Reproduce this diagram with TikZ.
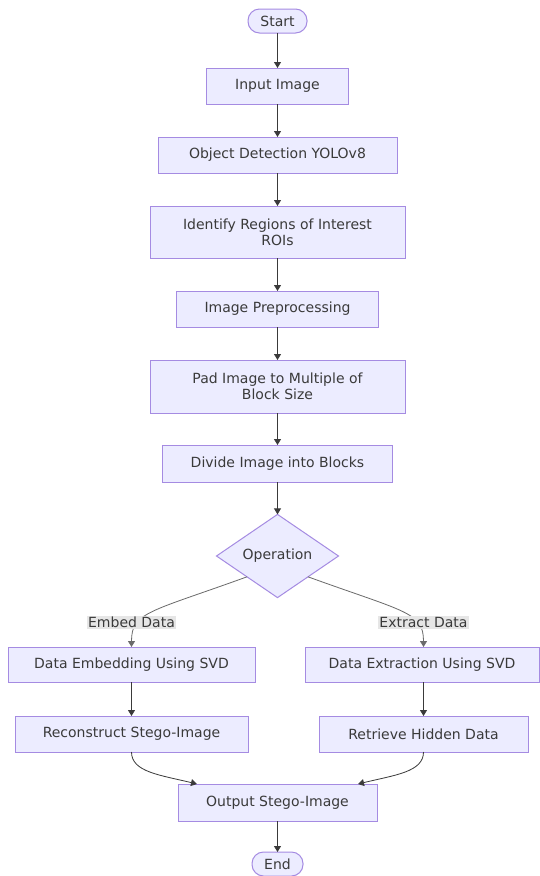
\documentclass[tikz,border=0pt]{standalone}
\usepackage{fontspec}
\setmainfont{DejaVu Sans}
\usetikzlibrary{shapes.geometric,arrows.meta}
\definecolor{nodefill}{HTML}{ECECFF}
\definecolor{nodeline}{HTML}{A58BE2}
\definecolor{edgeline}{HTML}{3A3A3A}
\definecolor{labelfill}{HTML}{E6E6E6}
\definecolor{txt}{HTML}{3A3A3A}
\tikzset{
  base/.style={draw=nodeline, fill=nodefill, line width=1pt, inner sep=0pt, outer sep=0pt,
    text=txt, font=\fontsize{14}{16}\selectfont, align=center},
  procbox/.style={base, rectangle},
  terminal/.style={base, rectangle, rounded corners=11.5pt},
  decision/.style={base, diamond},
  edgelabel/.style={fill=labelfill, text=txt, inner sep=1.5pt, font=\fontsize{14}{16}\selectfont},
  flow/.style={draw=edgeline, line width=0.8pt, -{Triangle[length=6pt,width=7pt]}},
  slant/.style={flow, draw=edgeline!75}
}
\begin{document}
\begin{tikzpicture}[x=1pt,y=-1pt]
\useasboundingbox (0,0) rectangle (540,876);
\fill[white] (0,0) rectangle (540,876);

% main column
\node[terminal, minimum width=59pt, minimum height=24pt] (start) at (277.5,21) {Start};
\node[procbox, minimum width=142pt, minimum height=36pt] (inp) at (277.5,86) {Input Image};
\node[procbox, minimum width=239pt, minimum height=36pt] (det) at (277.5,155) {Object Detection YOLOv8};
\node[procbox, minimum width=255pt, minimum height=52pt] (roi) at (277.5,232) {Identify Regions of Interest\\ROIs};
\node[procbox, minimum width=202pt, minimum height=36pt] (pre) at (277.5,309) {Image Preprocessing};
\node[procbox, minimum width=255pt, minimum height=53pt] (pad) at (277.5,386.5) {Pad Image to Multiple of\\Block Size};
\node[procbox, minimum width=230pt, minimum height=37pt] (div) at (277.5,463.5) {Divide Image into Blocks};
\node[decision, minimum width=122pt, minimum height=82pt] (op) at (277.5,556) {Operation};

% two branches
\node[procbox, minimum width=247pt, minimum height=35pt] (emb) at (131.5,664.5) {Data Embedding Using SVD};
\node[procbox, minimum width=234pt, minimum height=35pt] (ext) at (422,664.5) {Data Extraction Using SVD};
\node[procbox, minimum width=233pt, minimum height=36pt] (rec) at (131.5,734) {Reconstruct Stego-Image};
\node[procbox, minimum width=209pt, minimum height=36pt] (ret) at (423.5,734) {Retrieve Hidden Data};

% merge and end
\node[procbox, minimum width=199pt, minimum height=37pt] (out) at (277.5,802.5) {Output Stego-Image};
\node[terminal, minimum width=51pt, minimum height=24pt] (fin) at (277.5,864) {End};

% straight connectors
\draw[flow] (start) -- (inp);
\draw[flow] (inp) -- (det);
\draw[flow] (det) -- (roi);
\draw[flow] (roi) -- (pre);
\draw[flow] (pre) -- (pad);
\draw[flow] (pad) -- (div);
\draw[flow] (div) -- (op);
\draw[flow] (emb) -- (rec);
\draw[flow] (ext.south -| ret.north) -- (ret);
\draw[flow] (out) -- (fin);

% branch connectors with labels
\draw[slant] (op.south west) .. controls (150,612) and (131.5,612) .. (emb.north);
\draw[slant] (op.south east) .. controls (405,612) and (423.5,612) .. (emb.north -| ret.north);
\node[edgelabel] (lblemb) at (131.5,622.5) {Embed Data};
\node[edgelabel] (lblext) at (423.5,622.5) {Extract Data};

% merging connectors
\coordinate (inL) at (197,784);
\coordinate (inR) at (358,784);
\draw[flow] (rec.south) .. controls (131.5,772) and (160,775) .. (inL);
\draw[flow] (ret.south) .. controls (423.5,772) and (395,775) .. (inR);
\end{tikzpicture}
\end{document}
